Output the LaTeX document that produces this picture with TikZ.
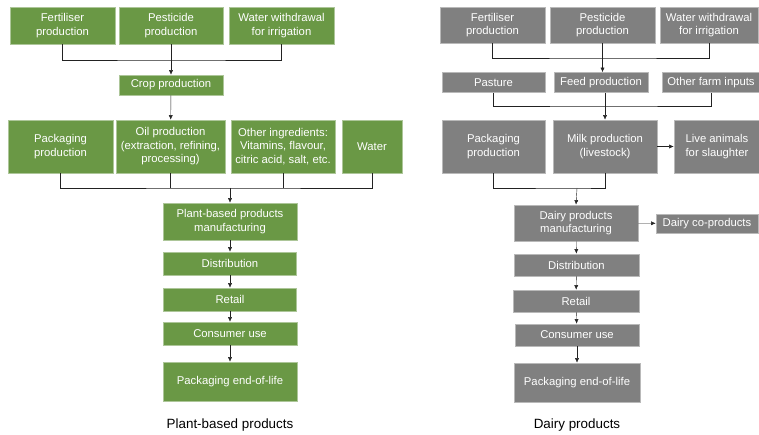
\documentclass[tikz,border=0pt]{standalone}
\usepackage{fontspec}
\setmainfont{Liberation Sans}
\usepackage{tikz}
\usetikzlibrary{arrows.meta}
\definecolor{plant}{RGB}{106, 152, 69}
\definecolor{dairy}{RGB}{128, 128, 128}
\definecolor{link}{RGB}{34, 34, 34}

\begin{document}
\begin{tikzpicture}[x=1pt, y=-1pt,
  every node/.style={align=center, inner sep=0pt, text=white, line width=0.7pt,
    font=\fontsize{11.3}{13.5}\selectfont},
  pbox/.style={fill=plant, draw=plant!55!white},
  dbox/.style={fill=dairy, draw=dairy!55!white},
  >={Latex[length=4.5pt, width=4pt]}]
  \useasboundingbox (0,0) rectangle (759,435);

  % plant-based products
  \node[pbox, minimum width=105pt, minimum height=37pt] (fert1) at (62.5,25.5) {Fertiliser\\production};
  \node[pbox, minimum width=104pt, minimum height=37pt] (pest1) at (171,25.5) {Pesticide\\production};
  \node[pbox, minimum width=105pt, minimum height=37pt] (wat1) at (281.5,25.5) {Water withdrawal\\for irrigation};
  \node[pbox, minimum width=104pt, minimum height=20pt] (crop) at (171,85) {Crop production};
  \node[pbox, minimum width=105pt, minimum height=53pt] (pack1) at (60.5,146.5) {Packaging\\production};
  \node[pbox, minimum width=109pt, minimum height=53pt] (oil) at (170.5,146.5)
    {Oil production\\(extraction, refining,\\processing)};
  \node[pbox, minimum width=104pt, minimum height=53pt] (other) at (283,146.5)
    {Other ingredients:\\Vitamins, flavour,\\citric acid, salt, etc.};
  \node[pbox, minimum width=60pt, minimum height=53pt] (water) at (372,146.5) {Water};
  \node[pbox, minimum width=134pt, minimum height=37pt] (man1) at (230,221.5) {Plant-based products\\manufacturing};
  \node[pbox, minimum width=133pt, minimum height=23pt] (dist1) at (230,263.5) {Distribution};
  \node[pbox, minimum width=133pt, minimum height=23pt] (ret1) at (230,299.5) {Retail};
  \node[pbox, minimum width=134pt, minimum height=23pt] (cons1) at (230,333.5) {Consumer use};
  \node[pbox, minimum width=134pt, minimum height=39pt] (eol1) at (230,381.5) {Packaging end-of-life};
  \node[text=black, font=\fontsize{13.4}{16}\selectfont] (lab1) at (230,425) {Plant-based products};

  \coordinate (j1) at (171,60);
  \coordinate (j2) at (230,188);
  \draw[link] (fert1.south) |- (j1) -| (wat1.south);
  \draw[link, ->] (pest1) -- (crop);
  \draw[link, ->] (crop) -- (oil);
  \draw[link] (pack1.south) |- (j2) -| (water.south);
  \draw[link] (oil.south) -- (oil.south |- j2);
  \draw[link] (other.south) -- (other.south |- j2);
  \draw[link, ->] (j2) -- (man1.north);
  \draw[link, ->] (man1) -- (dist1);
  \draw[link, ->] (dist1) -- (ret1);
  \draw[link, ->] (ret1) -- (cons1);
  \draw[link, ->] (cons1) -- (eol1);

  % dairy products
  \node[dbox, minimum width=105pt, minimum height=36pt] (fert2) at (492.5,25) {Fertiliser\\production};
  \node[dbox, minimum width=105pt, minimum height=36pt] (pest2) at (602.5,25) {Pesticide\\production};
  \node[dbox, minimum width=98pt, minimum height=36pt] (wat2) at (709,25) {Water withdrawal\\for irrigation};
  \node[dbox, minimum width=103pt, minimum height=20pt] (past) at (493.5,82.5) {Pasture};
  \node[dbox, minimum width=94pt, minimum height=20pt] (feed) at (601,82.5) {Feed production};
  \node[dbox, minimum width=98pt, minimum height=20pt] (farm) at (711,82.5) {Other farm inputs};
  \node[dbox, minimum width=103pt, minimum height=53pt] (pack2) at (493.5,146.5) {Packaging\\production};
  \node[dbox, minimum width=104pt, minimum height=53pt] (milk) at (605,146.5) {Milk production\\(livestock)};
  \node[dbox, minimum width=86pt, minimum height=53pt] (live) at (717,146.5) {Live animals\\for slaughter};
  \node[dbox, minimum width=124pt, minimum height=36pt] (man2) at (576,223) {Dairy products\\manufacturing};
  \node[dbox, minimum width=102pt, minimum height=19pt] (coprod) at (707,223.5) {Dairy co-products};
  \node[dbox, minimum width=125pt, minimum height=22pt] (dist2) at (576.5,265) {Distribution};
  \node[dbox, minimum width=126pt, minimum height=22pt] (ret2) at (576,301) {Retail};
  \node[dbox, minimum width=124pt, minimum height=22pt] (cons2) at (577,335) {Consumer use};
  \node[dbox, minimum width=126pt, minimum height=39pt] (eol2) at (577,382.5) {Packaging end-of-life};
  \node[text=black, font=\fontsize{13.4}{16}\selectfont] (lab2) at (577,425) {Dairy products};

  \coordinate (j3) at (605,58);
  \coordinate (j4) at (605,106);
  \coordinate (j5) at (577,188);
  \draw[link] (fert2.south) |- (j3) -| (wat2.south);
  \draw[link, ->] (pest2.south) -- (pest2.south |- feed.north);
  \draw[link] (past.south) |- (j4) -| (farm.south);
  \draw[link, ->] (feed.south -| milk.north) -- (milk.north);
  \draw[link, ->] (milk) -- (live);
  \draw[link] (pack2.south) |- (j5) -| (milk.south);
  \draw[link, ->] (j5) -- (man2.north);
  \draw[link, ->] (man2) -- (coprod);
  \draw[link, ->] (man2) -- (dist2);
  \draw[link, ->] (dist2) -- (ret2);
  \draw[link, ->] (ret2) -- (cons2);
  \draw[link, ->] (cons2) -- (eol2);
\end{tikzpicture}
\end{document}
